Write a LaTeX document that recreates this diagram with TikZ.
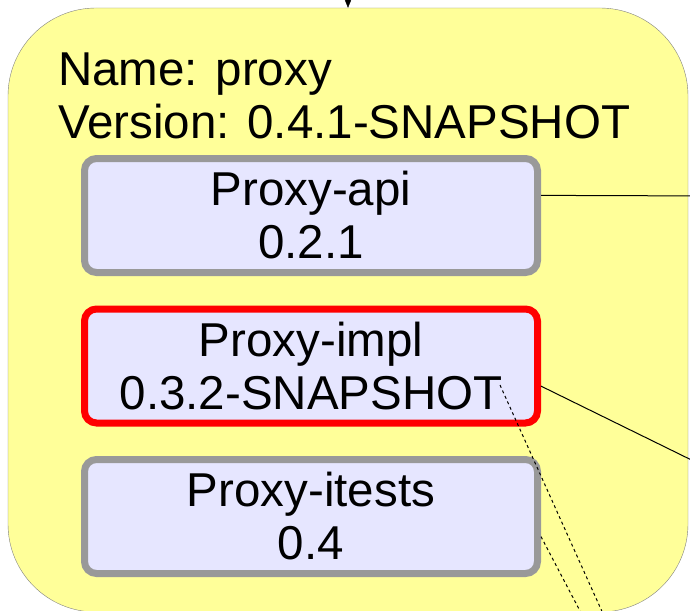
\documentclass[tikz,border=0pt]{standalone}
\usepackage{fontspec}
\setmainfont{Liberation Sans}
\usetikzlibrary{positioning, arrows.meta}

\definecolor{pkgyellow}{HTML}{FFFF99}
\definecolor{modlilac}{HTML}{E6E6FF}
\definecolor{modgray}{HTML}{999999}

\begin{document}
\begin{tikzpicture}[
         x=1pt, y=-1pt,
         node distance=29.5pt,
         package/.style={draw=gray, fill=pkgyellow, rounded corners=88pt, minimum width=680pt, minimum height=604pt},
         heading/.style={font=\fontsize{47.5}{53}\selectfont, align=left, inner sep=0pt},
         module/.style={draw=modgray, fill=modlilac, line width=7pt, rounded corners=12pt, minimum width=453pt, minimum height=114pt, inner sep=0pt, align=center, font=\fontsize{47.5}{53}\selectfont},
         current/.style={module, draw=red},
         dep/.style={line width=1pt},
         testdep/.style={line width=1pt, dash pattern=on 3pt off 3pt}
      ]
         \useasboundingbox (0,0) rectangle (690,610);
         \clip (0,0) rectangle (690,610);

         % Package frame and its heading
         \node[package] (proxy) at (348,310) {};
         \node[heading, anchor=north west] (title) at (58,53) {Name: proxy\\Version: 0.4.1-SNAPSHOT};

         % Modules
         \node[module] (api) at (311,215.5) {Proxy-api\\0.2.1};
         \node[current] (impl) [below=of api] {Proxy-impl\\0.3.2-SNAPSHOT};
         \node[module] (itests) [below=of impl] {Proxy-itests\\0.4};

         % Free ends outside the picture
         \coordinate (upstream) at (348,-40);
         \coordinate (apiOut) at (720,196);
         \coordinate (implOut) at (720,474);
         \coordinate (implTail) at ([shift={(-41,19)}]impl.east);
         \coordinate (implTestOut) at (627,667);
         \coordinate (itestsOut) at (590,630);

         % Dependencies
         \draw[-{Triangle[width=8pt,length=10pt]}] (upstream) -- (proxy.north);
         \draw[dep] (api.5) -- (apiOut);
         \draw[dep] (impl.-5) -- (implOut);
         \draw[testdep] (implTail) -- (implTestOut);
         \draw[testdep] (itests.-5) -- (itestsOut);

      \end{tikzpicture}
\end{document}
